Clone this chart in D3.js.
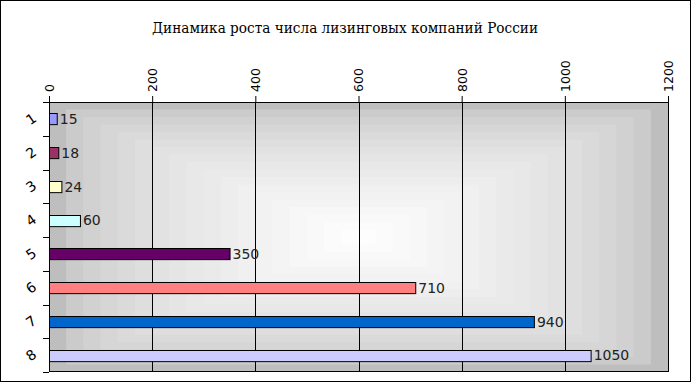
<!DOCTYPE html>
<html>
<head>
<meta charset="utf-8">
<script src="https://cdn.jsdelivr.net/npm/d3@7"></script>
<style>
  body { margin: 0; background: #fff; }
  svg { display: block; }
</style>
</head>
<body>
<div id="chart"></div>
<script>
// Data
const categories = ["1", "2", "3", "4", "5", "6", "7", "8"];
const values = [15, 18, 24, 60, 350, 710, 940, 1050];
const barColors = ["#9999ff", "#993366", "#ffffcc", "#ccffff", "#660066", "#ff8080", "#0066cc", "#ccccff"];
const xTicks = [0, 200, 400, 600, 800, 1000, 1200];
const title = "Динамика роста числа лизинговых компаний России";

const width = 691, height = 382;
const margin = { top: 102, right: 23, bottom: 10, left: 49 };
const innerW = width - margin.left - margin.right;
const innerH = height - margin.top - margin.bottom;

const svg = d3.select("#chart").append("svg")
    .attr("width", width)
    .attr("height", height);

// Outer frame
svg.append("rect")
    .attr("x", 0.5).attr("y", 0.5)
    .attr("width", width - 1).attr("height", height - 1)
    .attr("fill", "#fff")
    .attr("stroke", "#000");

svg.append("text")
    .attr("x", 345)
    .attr("y", 33)
    .attr("text-anchor", "middle")
    .attr("textLength", 386)
    .attr("lengthAdjust", "spacingAndGlyphs")
    .style("font-family", "'DejaVu Serif', serif")
    .style("font-size", "15px")
    .style("fill", "#000")
    .text(title);

const g = svg.append("g").attr("transform", `translate(${margin.left},${margin.top})`);

const x = d3.scaleLinear().domain([0, 1200]).range([0, innerW]);
const y = d3.scaleBand().domain(categories).range([0, innerH]).paddingInner(0.67).paddingOuter(0.335);

// Rectangular gradient background (grey edges, white centre)
const steps = 18;
const shade = d3.interpolateRgb("#bebebe", "#ffffff");
d3.range(steps).forEach(i => {
    const t = i / steps;
    const dx = t * innerW / 2, dy = t * innerH / 2;
    g.append("rect")
        .attr("x", dx).attr("y", dy)
        .attr("width", innerW - 2 * dx).attr("height", innerH - 2 * dy)
        .attr("fill", shade(Math.pow(t, 0.55)));
});

// Gridlines
g.append("g")
    .selectAll("line")
    .data(xTicks.slice(1))
    .join("line")
    .attr("x1", d => Math.round(x(d)) + 0.5)
    .attr("x2", d => Math.round(x(d)) + 0.5)
    .attr("y1", 0)
    .attr("y2", innerH)
    .attr("stroke", "#000");

// Plot border
g.append("rect")
    .attr("x", 0.5).attr("y", 0.5)
    .attr("width", innerW).attr("height", innerH - 1)
    .attr("fill", "none")
    .attr("stroke", "#000");

// Top axis
const xAxis = g.append("g")
    .call(d3.axisTop(x).tickValues(xTicks).tickSize(6).tickFormat(d3.format("d")));
xAxis.select(".domain").attr("stroke", "#000");
xAxis.selectAll(".tick line").attr("stroke", "#000");
xAxis.selectAll("text")
    .attr("transform", "rotate(-90)")
    .attr("x", 10)
    .attr("y", 0)
    .attr("dy", "0.35em")
    .attr("text-anchor", "start")
    .style("font-family", "'DejaVu Sans', sans-serif")
    .style("font-size", "12.5px")
    .style("fill", "#000");

// Left axis ticks at band boundaries
const step = innerH / categories.length;
g.append("g")
    .selectAll("line")
    .data(d3.range(categories.length + 1))
    .join("line")
    .attr("x1", -6).attr("x2", 0)
    .attr("y1", d => Math.round(d * step) + 0.5)
    .attr("y2", d => Math.round(d * step) + 0.5)
    .attr("stroke", "#000");

g.append("g")
    .selectAll("text")
    .data(categories)
    .join("text")
    .attr("transform", d => `translate(-18,${y(d) + y.bandwidth() / 2}) rotate(-35)`)
    .attr("text-anchor", "middle")
    .attr("dy", "0.35em")
    .style("font-family", "'DejaVu Sans', sans-serif")
    .style("font-size", "14px")
    .style("fill", "#000")
    .text(d => d);

// Bars
g.append("g")
    .selectAll("rect")
    .data(values)
    .join("rect")
    .attr("x", 0.5)
    .attr("y", (d, i) => Math.round(y(categories[i])) + 0.5)
    .attr("width", d => x(d))
    .attr("height", y.bandwidth())
    .attr("fill", (d, i) => barColors[i])
    .attr("stroke", "#000");

// Value labels
g.append("g")
    .selectAll("text")
    .data(values)
    .join("text")
    .attr("x", d => x(d) + 3)
    .attr("y", (d, i) => y(categories[i]) + y.bandwidth() / 2)
    .attr("dy", "0.38em")
    .style("font-family", "'DejaVu Sans', sans-serif")
    .style("font-size", "14px")
    .style("fill", "#222")
    .text(d => d);
</script>
</body>
</html>
